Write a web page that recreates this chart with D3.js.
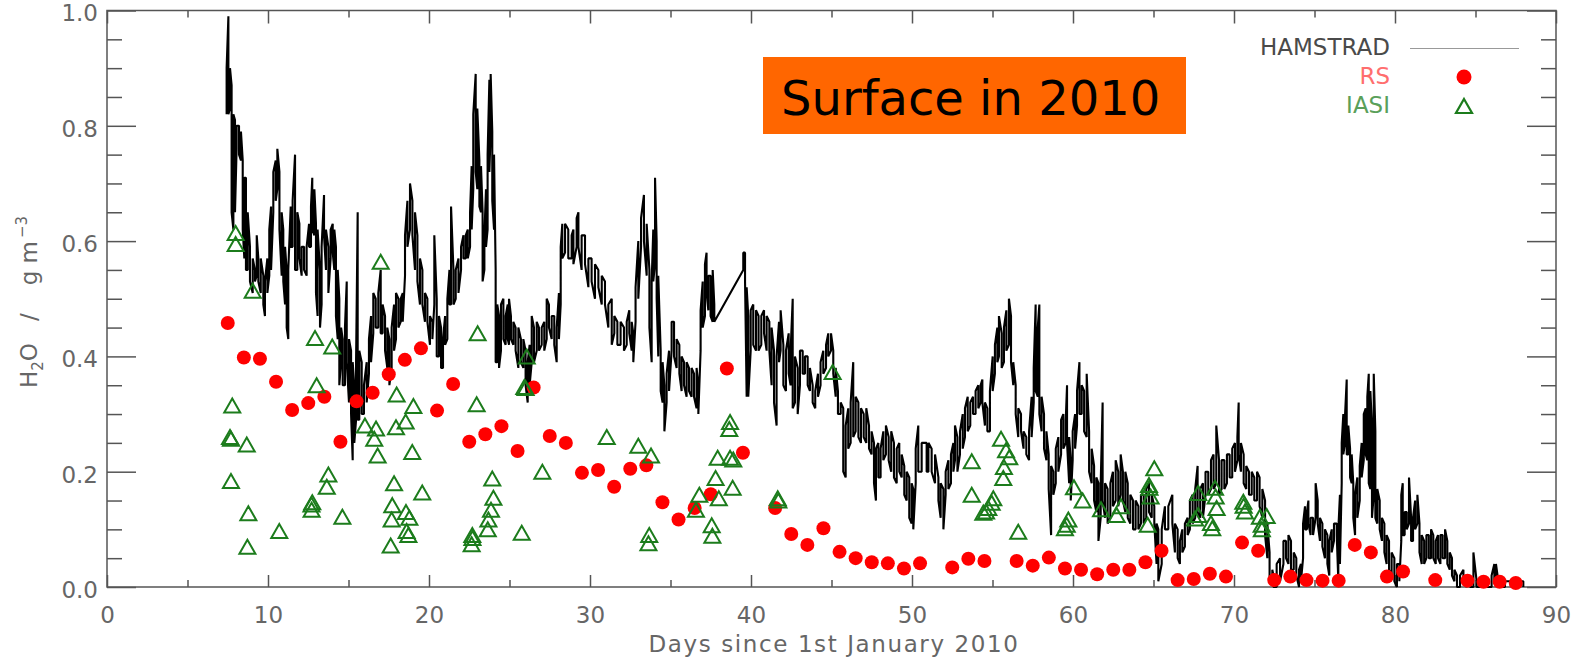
<!DOCTYPE html>
<html>
<head>
<meta charset="utf-8">
<script src="https://cdn.jsdelivr.net/npm/d3@7"></script>
<style>
  body { margin: 0; background: #fff; }
</style>
</head>
<body>
<div id="chart"></div>
<script>
// HAMSTRAD trace as [day, min, max] of the noisy band
const hamstrad = [
  [7.43,0.82,0.90],[7.54,0.82,0.99],[7.64,0.83,0.90],[7.74,0.65,0.87],[7.85,0.62,0.82],[7.95,0.65,0.81],[8.05,0.76,0.80],[8.20,0.75,0.80],[8.32,0.74,0.79],[8.43,0.62,0.74],[8.53,0.57,0.71],[8.63,0.55,0.71],[8.74,0.55,0.65],[8.88,0.53,0.59],[9.05,0.51,0.57],[9.19,0.53,0.55],[9.30,0.54,0.61],[9.40,0.53,0.57],[9.55,0.51,0.57],[9.71,0.49,0.54],[9.81,0.47,0.53],[9.96,0.51,0.57],[10.08,0.54,0.62],[10.19,0.55,0.66],[10.33,0.65,0.72],[10.48,0.67,0.74],[10.58,0.69,0.76],[10.71,0.62,0.72],[10.85,0.54,0.65],[10.95,0.53,0.62],[11.06,0.49,0.59],[11.16,0.45,0.55],[11.26,0.43,0.55],[11.41,0.59,0.66],[11.53,0.59,0.67],[11.68,0.55,0.75],[11.82,0.55,0.65],[11.95,0.57,0.63],[12.09,0.54,0.59],[12.24,0.55,0.59],[12.40,0.54,0.59],[12.55,0.59,0.63],[12.67,0.59,0.66],[12.75,0.62,0.71],[12.88,0.61,0.69],[12.98,0.51,0.63],[13.08,0.47,0.62],[13.23,0.45,0.55],[13.33,0.49,0.59],[13.48,0.61,0.68],[13.60,0.55,0.62],[13.75,0.51,0.59],[13.89,0.57,0.62],[14.02,0.58,0.63],[14.12,0.55,0.62],[14.22,0.47,0.59],[14.33,0.43,0.55],[14.43,0.35,0.50],[14.54,0.39,0.45],[14.64,0.35,0.43],[14.78,0.35,0.45],[14.89,0.39,0.53],[15.03,0.32,0.43],[15.16,0.30,0.41],[15.26,0.22,0.39],[15.36,0.25,0.35],[15.47,0.29,0.39],[15.57,0.29,0.65],[15.67,0.29,0.41],[15.82,0.30,0.39],[15.96,0.30,0.35],[16.13,0.32,0.39],[16.27,0.37,0.43],[16.40,0.39,0.47],[16.54,0.44,0.51],[16.69,0.45,0.50],[16.85,0.45,0.51],[17.00,0.44,0.55],[17.12,0.44,0.49],[17.27,0.41,0.47],[17.41,0.38,0.45],[17.54,0.35,0.43],[17.68,0.38,0.45],[17.83,0.41,0.49],[17.95,0.43,0.51],[18.10,0.45,0.50],[18.24,0.46,0.50],[18.37,0.46,0.51],[18.51,0.54,0.61],[18.66,0.59,0.67],[18.82,0.62,0.70],[18.97,0.61,0.67],[19.13,0.55,0.65],[19.28,0.53,0.61],[19.44,0.49,0.57],[19.59,0.49,0.55],[19.75,0.46,0.51],[19.90,0.46,0.50],[20.06,0.42,0.47],[20.21,0.43,0.46],[20.33,0.49,0.61],[20.48,0.40,0.50],[20.62,0.40,0.47],[20.75,0.38,0.45],[20.87,0.38,0.43],[21.00,0.42,0.47],[21.14,0.43,0.50],[21.27,0.49,0.55],[21.37,0.49,0.66],[21.52,0.49,0.55],[21.66,0.50,0.55],[21.83,0.51,0.57],[21.99,0.55,0.59],[22.14,0.57,0.61],[22.28,0.57,0.61],[22.41,0.57,0.62],[22.55,0.59,0.65],[22.65,0.62,0.73],[22.75,0.69,0.82],[22.90,0.72,0.89],[23.00,0.69,0.83],[23.13,0.66,0.74],[23.23,0.65,0.73],[23.33,0.53,0.65],[23.44,0.55,0.61],[23.54,0.59,0.69],[23.64,0.62,0.75],[23.75,0.72,0.88],[23.83,0.79,0.89],[23.93,0.67,0.79],[24.04,0.62,0.75],[24.14,0.39,0.55],[24.24,0.39,0.49],[24.35,0.38,0.47],[24.47,0.41,0.49],[24.62,0.43,0.50],[24.76,0.42,0.47],[24.89,0.43,0.49],[24.97,0.42,0.50],[25.09,0.43,0.47],[25.24,0.42,0.46],[25.38,0.41,0.45],[25.55,0.38,0.45],[25.71,0.39,0.43],[25.86,0.38,0.43],[26.00,0.35,0.41],[26.13,0.32,0.39],[26.25,0.35,0.42],[26.38,0.39,0.47],[26.52,0.39,0.45],[26.69,0.41,0.46],[26.83,0.41,0.45],[27.00,0.42,0.45],[27.16,0.41,0.46],[27.31,0.43,0.50],[27.45,0.45,0.49],[27.62,0.43,0.47],[27.78,0.42,0.47],[27.93,0.39,0.45],[28.07,0.43,0.51],[28.18,0.49,0.59],[28.28,0.57,0.63],[28.45,0.58,0.63],[28.65,0.57,0.62],[28.86,0.57,0.61],
  [28.97,0.56,0.62],[29.17,0.59,0.64],[29.28,0.59,0.65],[29.48,0.55,0.61],[29.69,0.56,0.61],[29.90,0.52,0.57],[30.10,0.53,0.57],[30.31,0.50,0.56],[30.52,0.52,0.55],[30.73,0.49,0.54],[30.93,0.49,0.53],[31.14,0.45,0.49],[31.35,0.42,0.50],[31.51,0.44,0.47],[31.70,0.42,0.46],[31.90,0.42,0.46],[32.11,0.41,0.45],[32.28,0.42,0.46],[32.44,0.44,0.48],[32.59,0.41,0.46],[32.69,0.39,0.44],[32.83,0.46,0.52],[33.00,0.50,0.60],[33.17,0.59,0.64],[33.35,0.60,0.68],[33.52,0.54,0.63],[33.69,0.45,0.55],[33.83,0.39,0.53],[33.93,0.53,0.62],[34.04,0.56,0.71],[34.14,0.50,0.60],[34.24,0.40,0.54],[34.39,0.34,0.41],[34.51,0.32,0.39],[34.62,0.27,0.35],[34.76,0.32,0.37],[34.91,0.34,0.41],[35.07,0.41,0.46],[35.22,0.40,0.46],[35.38,0.38,0.43],[35.55,0.37,0.42],[35.69,0.34,0.40],[35.84,0.35,0.39],[36.00,0.33,0.39],[36.15,0.34,0.38],[36.31,0.33,0.38],[36.46,0.33,0.37],[36.62,0.31,0.38],[36.73,0.30,0.35],[36.87,0.41,0.48],[37.00,0.45,0.53],[37.14,0.47,0.56],[37.24,0.51,0.58],[37.35,0.48,0.54],[37.49,0.47,0.54],[37.62,0.46,0.55],[37.72,0.46,0.49],[39.52,0.55,0.58],[39.63,0.53,0.58],[39.73,0.33,0.52],[39.83,0.33,0.47],[39.98,0.41,0.48],[40.14,0.42,0.49],[40.31,0.41,0.48],[40.47,0.41,0.47],[40.64,0.42,0.47],[40.81,0.44,0.48],[40.97,0.41,0.47],[41.14,0.41,0.46],[41.28,0.35,0.45],[41.43,0.32,0.41],[41.59,0.28,0.40],[41.74,0.39,0.46],[41.84,0.41,0.48],[42.01,0.35,0.42],[42.17,0.34,0.41],[42.34,0.37,0.44],[42.46,0.35,0.41],[42.59,0.31,0.50],[42.73,0.32,0.40],[42.90,0.30,0.38],[43.04,0.35,0.41],[43.21,0.37,0.41],[43.35,0.37,0.40],[43.52,0.35,0.40],[43.66,0.34,0.38],[43.83,0.32,0.35],[43.99,0.31,0.34],[44.16,0.33,0.37],[44.32,0.35,0.39],[44.49,0.37,0.41],[44.66,0.38,0.42],[44.80,0.40,0.44],[44.97,0.41,0.44],[45.11,0.37,0.41],[45.26,0.33,0.38],[45.40,0.30,0.34],[45.57,0.30,0.32],[45.73,0.20,0.31],[45.88,0.19,0.28],[46.04,0.24,0.31],[46.19,0.25,0.32],[46.35,0.26,0.39],[46.50,0.27,0.33],[46.67,0.26,0.32],[46.83,0.25,0.31],[47.00,0.26,0.30],[47.16,0.25,0.31],[47.33,0.24,0.28],[47.49,0.23,0.27],[47.64,0.18,0.25],[47.76,0.15,0.24],[47.91,0.19,0.25],[48.05,0.19,0.24],[48.22,0.22,0.27],[48.38,0.23,0.28],[48.55,0.22,0.26],[48.71,0.20,0.27],[48.88,0.19,0.25],[49.05,0.18,0.24],[49.21,0.20,0.25],[49.36,0.19,0.23],[49.52,0.16,0.21],[49.67,0.15,0.20],[49.83,0.12,0.19],[49.98,0.11,0.18],[50.08,0.10,0.17],[50.23,0.18,0.24],[50.39,0.20,0.28],[50.60,0.20,0.25],[50.91,0.20,0.25],
  [51.02,0.20,0.25],[51.22,0.20,0.24],[51.43,0.18,0.23],[51.64,0.15,0.19],[51.78,0.12,0.18],[51.95,0.10,0.17],[52.09,0.16,0.20],[52.26,0.17,0.22],[52.42,0.18,0.23],[52.57,0.20,0.25],[52.67,0.22,0.28],[52.82,0.20,0.26],[52.98,0.23,0.27],[53.15,0.24,0.30],[53.29,0.26,0.31],[53.46,0.27,0.33],[53.62,0.28,0.32],[53.79,0.30,0.33],[53.95,0.30,0.34],[54.12,0.31,0.35],[54.26,0.32,0.35],[54.37,0.32,0.36],[54.53,0.28,0.32],[54.68,0.27,0.31],[54.84,0.27,0.34],[55.01,0.34,0.40],[55.15,0.37,0.42],[55.30,0.39,0.45],[55.40,0.40,0.47],[55.57,0.38,0.44],[55.71,0.39,0.45],[55.86,0.41,0.48],[56.02,0.42,0.50],[56.15,0.39,0.47],[56.29,0.35,0.39],[56.44,0.30,0.35],[56.60,0.26,0.31],[56.77,0.27,0.30],[56.93,0.24,0.27],[57.10,0.23,0.26],[57.27,0.22,0.27],[57.43,0.26,0.33],[57.56,0.32,0.38],[57.68,0.34,0.49],[57.81,0.33,0.45],[57.91,0.30,0.49],[58.05,0.27,0.33],[58.20,0.24,0.30],[58.35,0.22,0.27],[58.49,0.17,0.23],[58.64,0.09,0.21],[58.78,0.16,0.20],[58.93,0.18,0.24],[59.09,0.20,0.26],[59.26,0.23,0.29],[59.40,0.24,0.30],[59.55,0.25,0.29],[59.63,0.25,0.35],[59.76,0.18,0.26],[59.86,0.15,0.22],[59.98,0.22,0.27],[60.13,0.24,0.30],[60.25,0.28,0.34],[60.40,0.30,0.39],[60.54,0.30,0.35],[60.69,0.27,0.34],[60.85,0.26,0.37],[61.00,0.20,0.27],[61.16,0.18,0.24],[61.31,0.15,0.21],[61.45,0.13,0.19],[61.58,0.08,0.18],[61.72,0.12,0.18],[61.84,0.15,0.32],[61.99,0.12,0.18],[62.15,0.11,0.17],[62.32,0.12,0.18],[62.48,0.14,0.20],[62.65,0.15,0.22],[62.81,0.14,0.20],[62.96,0.16,0.23],[63.10,0.15,0.20],[63.25,0.13,0.20],[63.40,0.12,0.18],[63.56,0.11,0.16],[63.73,0.10,0.15],[63.89,0.10,0.15],[64.06,0.10,0.14],[64.22,0.11,0.16],[64.39,0.11,0.16],[64.55,0.12,0.17],[64.72,0.13,0.18],[64.89,0.12,0.16],[65.05,0.11,0.14],[65.19,0.04,0.11],[65.30,0.01,0.10],[65.51,0.04,0.10],[65.71,0.10,0.14],[65.92,0.10,0.14],[66.17,0.11,0.16],[66.33,0.06,0.11],[66.50,0.05,0.10],[66.64,0.04,0.08],[66.79,0.06,0.10],[66.95,0.07,0.11],[67.12,0.09,0.12],[67.26,0.10,0.15],[67.43,0.11,0.16],[67.59,0.12,0.17],[67.74,0.13,0.21],[67.90,0.12,0.17],[68.07,0.12,0.18],[68.23,0.16,0.20],[68.40,0.16,0.20],[68.57,0.17,0.22],[68.73,0.17,0.23],[68.90,0.18,0.28],[69.07,0.16,0.22],[69.23,0.17,0.22],[69.40,0.17,0.22],[69.56,0.18,0.23],[69.73,0.19,0.23],[69.89,0.19,0.24],[70.06,0.20,0.25],[70.21,0.22,0.26],[70.29,0.23,0.32],[70.43,0.20,0.25],[70.60,0.18,0.23],[70.76,0.17,0.21],[70.93,0.16,0.20],[71.10,0.16,0.20],[71.26,0.15,0.19],[71.43,0.15,0.20],[71.59,0.14,0.19],[71.76,0.12,0.17],[71.93,0.09,0.15],[72.07,0.05,0.11],[72.21,0.01,0.06],[72.38,0.01,0.03],
  [72.45,0.00,0.02],[72.65,0.00,0.04],[72.86,0.01,0.05],[73.07,0.04,0.08],[73.23,0.05,0.08],[73.38,0.04,0.09],[73.54,0.03,0.08],[73.71,0.03,0.06],[73.87,0.02,0.05],[74.04,0.00,0.03],[74.16,0.01,0.04],[74.29,0.05,0.11],[74.41,0.10,0.14],[74.53,0.10,0.13],[74.62,0.11,0.15],[74.76,0.09,0.12],[74.91,0.09,0.12],[75.07,0.12,0.18],[75.20,0.11,0.15],[75.34,0.08,0.12],[75.49,0.07,0.11],[75.65,0.05,0.10],[75.80,0.04,0.09],[75.92,0.02,0.08],[76.07,0.06,0.10],[76.21,0.08,0.11],[76.38,0.09,0.11],[76.48,0.01,0.10],[76.58,0.04,0.16],[76.69,0.18,0.25],[76.79,0.23,0.30],[76.90,0.25,0.30],[77.00,0.23,0.36],[77.10,0.23,0.28],[77.21,0.19,0.24],[77.31,0.18,0.23],[77.41,0.12,0.18],[77.52,0.09,0.16],[77.66,0.12,0.19],[77.81,0.15,0.21],[77.93,0.19,0.25],[78.06,0.22,0.30],[78.18,0.23,0.31],[78.28,0.22,0.33],[78.37,0.18,0.37],[78.47,0.17,0.34],[78.57,0.12,0.28],[78.68,0.16,0.37],[78.78,0.12,0.27],[78.90,0.11,0.17],[79.05,0.10,0.15],[79.19,0.08,0.12],[79.34,0.06,0.11],[79.48,0.04,0.09],[79.63,0.03,0.08],[79.79,0.02,0.06],[79.96,0.01,0.05],[80.12,0.00,0.04],[80.27,0.01,0.04],[80.39,0.08,0.16],[80.48,0.09,0.18],[80.60,0.09,0.13],[80.73,0.10,0.13],[80.87,0.11,0.19],[81.00,0.08,0.12],[81.12,0.08,0.12],[81.25,0.10,0.15],[81.39,0.11,0.16],[81.52,0.06,0.11],[81.66,0.04,0.09],[81.81,0.04,0.08],[81.95,0.05,0.09],[82.10,0.05,0.09],[82.24,0.05,0.10],[82.38,0.05,0.09],[82.53,0.04,0.08],[82.67,0.05,0.09],[82.82,0.04,0.09],[82.96,0.05,0.09],[83.11,0.05,0.10],[83.25,0.04,0.08],[83.40,0.03,0.06],[83.54,0.02,0.05],[83.69,0.01,0.03],[83.85,0.00,0.02],[84.04,0.00,0.02],[84.25,0.01,0.03],[84.45,0.00,0.02],[84.66,0.00,0.01],[84.87,0.00,0.06],[85.07,0.00,0.01],[85.38,0.00,0.01],[85.69,0.00,0.01],[86.00,0.00,0.02],[86.17,0.01,0.04],[86.27,0.01,0.04],[86.42,0.00,0.01],[86.83,0.00,0.01],[87.25,0.00,0.01],[87.66,0.00,0.01],[87.97,0.00,0.01]
];

// radiosondes (RS), [day, g m-3]
const rs = [
  [7.5,0.458],[8.5,0.398],[9.5,0.396],[10.5,0.356],[11.5,0.307],[12.5,0.319],[13.5,0.330],[14.5,0.252],[15.5,0.322],[16.5,0.337],[17.5,0.369],[18.5,0.394],[19.5,0.414],[20.5,0.306],[21.5,0.352],[22.5,0.252],[23.5,0.265],[24.5,0.279],[25.5,0.236],[26.5,0.346],[27.5,0.262],[28.5,0.250],[29.5,0.198],[30.5,0.203],[31.5,0.174],[32.5,0.205],[33.5,0.211],[34.5,0.147],[35.5,0.117],[36.5,0.137],[37.5,0.161],[38.5,0.379],[39.5,0.233],[41.5,0.137],[42.5,0.092],[43.5,0.073],[44.5,0.102],[45.5,0.061],[46.5,0.050],[47.5,0.043],[48.5,0.041],[49.5,0.032],[50.5,0.041],[52.5,0.034],[53.5,0.049],[54.5,0.045],[56.5,0.045],[57.5,0.037],[58.5,0.051],[59.5,0.032],[60.5,0.030],[61.5,0.022],[62.5,0.030],[63.5,0.030],[64.5,0.043],[65.5,0.063],[66.5,0.012],[67.5,0.014],[68.5,0.023],[69.5,0.018],[70.5,0.077],[71.5,0.063],[72.5,0.012],[73.5,0.018],[74.5,0.012],[75.5,0.011],[76.5,0.011],[77.5,0.073],[78.5,0.060],[79.5,0.018],[80.5,0.027],[82.5,0.012],[84.5,0.011],[85.5,0.009],[86.5,0.009],[87.5,0.007]
];

// IASI retrievals, [day, g m-3]
const iasi = [
  [7.99,0.614],[7.99,0.595],[9.05,0.514],[7.78,0.315],[7.64,0.260],[7.70,0.257],[8.68,0.247],[7.70,0.184],[8.78,0.128],[8.72,0.070],[10.70,0.097],[12.92,0.432],[13.99,0.417],[13.02,0.350],[13.75,0.195],[13.65,0.174],[12.75,0.147],[12.70,0.143],[12.71,0.134],[14.62,0.122],[17.00,0.564],[16.02,0.280],[16.71,0.275],[16.60,0.257],[16.81,0.228],[17.99,0.334],[19.03,0.314],[18.55,0.287],[17.95,0.277],[18.96,0.234],[17.83,0.180],[19.58,0.164],[17.72,0.142],[17.68,0.117],[18.57,0.130],[18.78,0.120],[18.61,0.097],[18.72,0.090],[17.62,0.072],[23.02,0.440],[22.96,0.317],[26.07,0.400],[25.92,0.347],[26.00,0.345],[27.04,0.200],[23.93,0.188],[24.00,0.155],[23.85,0.134],[23.69,0.117],[23.65,0.100],[22.69,0.090],[22.70,0.085],[22.65,0.074],[25.76,0.094],
  [31.04,0.260],[33.00,0.245],[33.79,0.228],[33.68,0.090],[33.63,0.076],[36.58,0.134],[36.79,0.160],[37.56,0.107],[37.60,0.089],[37.80,0.189],[38.00,0.154],[37.93,0.224],[38.70,0.224],[38.90,0.221],[38.70,0.286],[38.65,0.274],[38.86,0.172],[41.66,0.154],[41.70,0.150],[45.07,0.373],
  [53.71,0.218],[53.71,0.160],[55.53,0.257],[55.84,0.237],[56.04,0.225],[55.71,0.208],[55.67,0.189],[55.05,0.154],[54.95,0.146],[54.74,0.137],[54.60,0.131],[54.43,0.129],[56.60,0.096],[60.06,0.173],[60.60,0.150],[59.71,0.117],[59.61,0.108],[59.50,0.102],[61.74,0.135],[62.71,0.125],[62.98,0.140],[65.05,0.206],[64.72,0.177],[64.75,0.172],[64.82,0.157],[64.64,0.108],[67.78,0.163],[67.78,0.125],[67.58,0.119],[68.82,0.172],[68.86,0.157],[68.92,0.137],[68.57,0.111],[68.65,0.102],[70.58,0.148],[70.60,0.141],[70.68,0.131],[71.61,0.122],[72.03,0.123],[71.72,0.108],[71.73,0.100]
];

const xMajorTicks = [0, 10, 20, 30, 40, 50, 60, 70, 80, 90];
const xMinorTicks = [5, 15, 25, 35, 45, 55, 65, 75, 85];
const yMajorTicks = [0, 0.2, 0.4, 0.6, 0.8, 1.0];
const yMinorTicks = [0.05, 0.1, 0.15, 0.25, 0.3, 0.35, 0.45, 0.5, 0.55, 0.65, 0.7, 0.75, 0.85, 0.9, 0.95];
const legendLabels = ["HAMSTRAD", "RS", "IASI"];

const width = 1581;
const height = 660;
const axisColor = "#555";
const labelColor = "#666";
const font = "DejaVu Sans, Verdana, sans-serif";

const x = d3.scaleLinear().domain([0, 90]).range([107, 1556]);
const y = d3.scaleLinear().domain([0, 1]).range([587, 10.5]);

const svg = d3
  .select("#chart")
  .append("svg")
  .attr("width", width)
  .attr("height", height)
  .attr("font-family", font);

svg.append("rect").attr("width", width).attr("height", height).attr("fill", "#fff");

// IDL style box: ticks point inward on all four sides
function styleAxis(g) {
  g.select(".domain").remove();
  g.attr("color", axisColor)
    .attr("font-family", font)
    .attr("font-size", 23);
  g.selectAll("line").attr("stroke-width", 1.5);
  g.selectAll("text").attr("fill", labelColor);
}

svg.append("g")
  .attr("transform", `translate(0,${y(0)})`)
  .call(d3.axisBottom(x).tickValues(xMajorTicks).tickSize(-12).tickSizeOuter(0).tickPadding(20).tickFormat(d3.format("d")))
  .call(styleAxis);
svg.append("g")
  .attr("transform", `translate(0,${y(0)})`)
  .call(d3.axisBottom(x).tickValues(xMinorTicks).tickSize(-7).tickSizeOuter(0).tickFormat(""))
  .call(styleAxis);
svg.append("g")
  .attr("transform", `translate(0,${y(1)})`)
  .call(d3.axisTop(x).tickValues(xMajorTicks).tickSize(-13).tickSizeOuter(0).tickFormat(""))
  .call(styleAxis);
svg.append("g")
  .attr("transform", `translate(0,${y(1)})`)
  .call(d3.axisTop(x).tickValues(xMinorTicks).tickSize(-7).tickSizeOuter(0).tickFormat(""))
  .call(styleAxis);

svg.append("g")
  .attr("transform", `translate(${x(0)},0)`)
  .call(d3.axisLeft(y).tickValues(yMajorTicks).tickSize(-29).tickSizeOuter(0).tickPadding(9).tickFormat(d3.format(".1f")))
  .call(styleAxis)
  .call((g) => g.selectAll("text").attr("dy", "0.45em"));
svg.append("g")
  .attr("transform", `translate(${x(0)},0)`)
  .call(d3.axisLeft(y).tickValues(yMinorTicks).tickSize(-15).tickSizeOuter(0).tickFormat(""))
  .call(styleAxis);
svg.append("g")
  .attr("transform", `translate(${x(90)},0)`)
  .call(d3.axisRight(y).tickValues(yMajorTicks).tickSize(-29).tickSizeOuter(0).tickFormat(""))
  .call(styleAxis);
svg.append("g")
  .attr("transform", `translate(${x(90)},0)`)
  .call(d3.axisRight(y).tickValues(yMinorTicks).tickSize(-15).tickSizeOuter(0).tickFormat(""))
  .call(styleAxis);

svg.append("rect")
  .attr("x", x(0))
  .attr("y", y(1))
  .attr("width", x(90) - x(0))
  .attr("height", y(0) - y(1))
  .attr("fill", "none")
  .attr("stroke", axisColor)
  .attr("stroke-width", 1.5);

// axis titles
svg.append("text")
  .attr("x", 834)
  .attr("y", 652)
  .attr("text-anchor", "middle")
  .attr("font-size", 23)
  .attr("letter-spacing", 1.6)
  .attr("fill", labelColor)
  .text("Days since 1st January 2010");

const yTitle = svg.append("text")
  .attr("transform", "translate(37,388) rotate(-90)")
  .attr("font-size", 23)
  .attr("fill", labelColor);
yTitle.append("tspan").text("H");
yTitle.append("tspan").attr("font-size", 15).attr("dy", 6).text("2");
yTitle.append("tspan").attr("dy", -6).text("O");
yTitle.append("tspan").attr("dx", 22).text("/");
yTitle.append("tspan").attr("dx", 28).text("g m");
yTitle.append("tspan").attr("font-size", 15).attr("dx", 3).attr("dy", -10).text("\u22123");

// HAMSTRAD: walk each sample from min to max, alternating direction
const hamPoints = [];
hamstrad.forEach(([d, lo, hi], i) => {
  if (i % 2 === 0) hamPoints.push([d, lo], [d, hi]);
  else hamPoints.push([d, hi], [d, lo]);
});

const line = d3.line()
  .x((p) => x(p[0]))
  .y((p) => y(p[1]));

svg.append("path")
  .datum(hamPoints)
  .attr("d", line)
  .attr("fill", "none")
  .attr("stroke", "#000")
  .attr("stroke-width", 2.1)
  .attr("stroke-linejoin", "bevel");

svg.append("g")
  .selectAll("circle")
  .data(rs)
  .join("circle")
  .attr("cx", (d) => x(d[0]))
  .attr("cy", (d) => y(d[1]))
  .attr("r", 7)
  .attr("fill", "#ff0000");

const triangle = "M0,-7L8,7L-8,7Z";
svg.append("g")
  .selectAll("path")
  .data(iasi)
  .join("path")
  .attr("transform", (d) => `translate(${x(d[0])},${y(d[1])})`)
  .attr("d", triangle)
  .attr("fill", "none")
  .attr("stroke", "#1c7c1c")
  .attr("stroke-width", 2);

// legend, top right inside the box
const legend = svg.append("g").attr("font-size", 23).attr("text-anchor", "end");
legend.append("text").attr("x", 1390).attr("y", 55).attr("fill", "#4a4a4a").text(legendLabels[0]);
legend.append("text").attr("x", 1390).attr("y", 84).attr("fill", "#ff6e6e").text(legendLabels[1]);
legend.append("text").attr("x", 1390).attr("y", 113).attr("fill", "#5aa05a").text(legendLabels[2]);
legend.append("line")
  .attr("x1", 1410).attr("x2", 1519)
  .attr("y1", 48.5).attr("y2", 48.5)
  .attr("stroke", "#999")
  .attr("stroke-width", 1.2);
legend.append("circle").attr("cx", 1464).attr("cy", 77).attr("r", 7.5).attr("fill", "#ff0000");
legend.append("path")
  .attr("transform", "translate(1464,106)")
  .attr("d", triangle)
  .attr("fill", "none")
  .attr("stroke", "#1c7c1c")
  .attr("stroke-width", 2.2);

// orange annotation box
svg.append("rect")
  .attr("x", 763)
  .attr("y", 57)
  .attr("width", 423)
  .attr("height", 77)
  .attr("fill", "#ff6600");
svg.append("text")
  .attr("x", 781)
  .attr("y", 115)
  .attr("font-size", 48)
  .attr("fill", "#000")
  .text("Surface in 2010");
</script>
</body>
</html>
